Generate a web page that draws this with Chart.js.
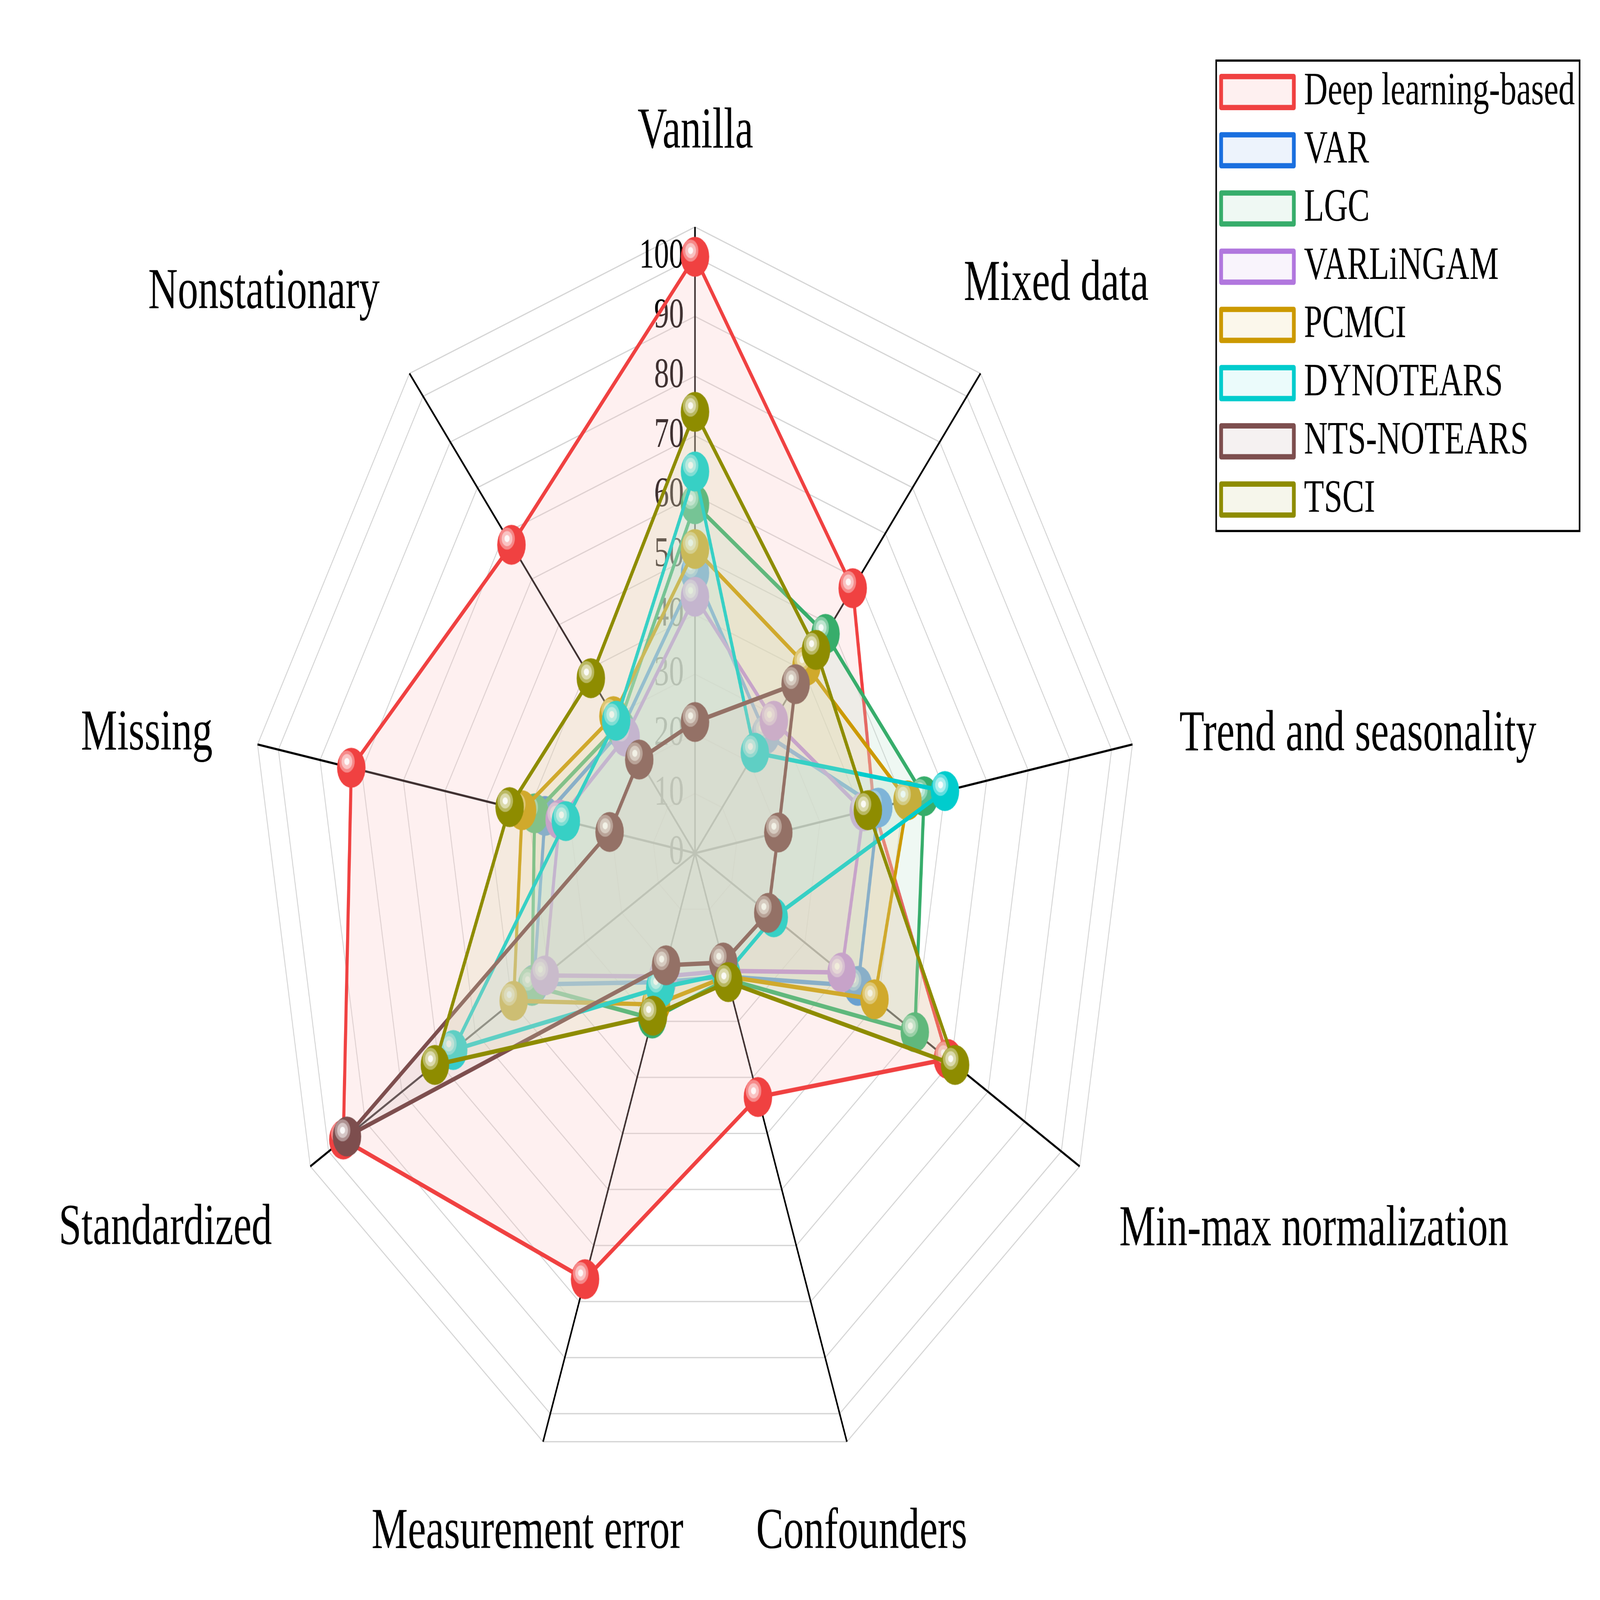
<!DOCTYPE html>
<html>
<head>
<meta charset="UTF-8" />
<script src="https://cdn.jsdelivr.net/npm/chart.js@4"></script>
<style>
  html {
    margin: 0;
    padding: 0;
    background: #ffffff;
    overflow: hidden;
  }
  body {
    margin: 0;
    padding: 0;
  }
  #wrap {
    position: absolute;
    left: 0;
    top: 0;
    transform-origin: 0 0;
  }
</style>
</head>
<body>
<div id="wrap"><canvas id="radar"></canvas></div>
<script>
// axes, clockwise from the top
const categories = ['Vanilla', 'Mixed data', 'Trend and seasonality', 'Min-max normalization',
  'Confounders', 'Measurement error', 'Standardized', 'Missing', 'Nonstationary'];

const seriesNames = ['Deep learning-based', 'VAR', 'LGC', 'VARLiNGAM', 'PCMCI', 'DYNOTEARS', 'NTS-NOTEARS', 'TSCI'];

const deepLearning = [100, 58, 43, 69, 43.5, 76, 96, 82.5, 67.5];
const varScores = [47, 26, 44, 44.5, 22, 23, 44, 36, 27];
const lgcScores = [58.5, 48, 55, 60, 22.5, 29.5, 44.5, 38.5, 28];
const varlingamScores = [43, 29, 40.5, 40, 21, 22, 41, 32.5, 25.5];
const pcmciScores = [51, 41, 51, 49, 22, 27, 49.5, 41.5, 30];
const dynotearsScores = [64, 22, 60, 21.5, 21.5, 24, 66, 31, 29];
const ntsNotearsScores = [22, 37, 20, 20, 19.5, 20, 95, 20.5, 20.5];
const tsciScores = [74, 44.5, 41.5, 71, 23, 29, 71, 44.5, 38.3];

const tickValues = [0, 10, 20, 30, 40, 50, 60, 70, 80, 90, 100];

const seriesColors = ['#F04141', '#1A6FDF', '#37AD6B', '#B177DE', '#CC9900', '#00CCCD', '#7D4E4E', '#8E8C00'];

const allScores = [deepLearning, varScores, lgcScores, varlingamScores, pcmciScores,
  dynotearsScores, ntsNotearsScores, tsciScores];

const SERIF = "'Liberation Serif', 'Times New Roman', serif";

// laid out for a 7208 x 5112 page; scaled to whatever window we actually get
const sx = (window.innerWidth || 7208) / 7208;
const sy = (window.innerHeight || 5112) / 5112;
const k = sx;
const px = v => v * k;
const wrap = document.getElementById('wrap');
wrap.style.width = px(7208) + 'px';
wrap.style.height = px(5112) + 'px';
if (Math.abs(sy / sx - 1) > 0.001) wrap.style.transform = `scale(1, ${sy / sx})`;

function rgbOf(hex) {
  const n = parseInt(hex.slice(1), 16);
  return [(n >> 16) & 255, (n >> 8) & 255, n & 255];
}
function towardWhite(hex, t, a) {
  const [r, g, b] = rgbOf(hex).map(v => Math.round(v + (255 - v) * t));
  return a === undefined ? `rgb(${r},${g},${b})` : `rgba(${r},${g},${b},${a})`;
}
// pale, semi-opaque area fill
const areaFill = hex => towardWhite(hex, 0.684, 0.25);

// glossy ball used as point marker
function sphere(hex) {
  const r = px(64);
  const c = document.createElement('canvas');
  c.width = c.height = Math.ceil(r * 2 + 2);
  const g = c.getContext('2d');
  const cx = c.width / 2, cy = c.height / 2;
  g.fillStyle = hex;
  g.beginPath(); g.arc(cx, cy, r, 0, Math.PI * 2); g.fill();
  const hx = cx - 0.31 * r, hy = cy - 0.31 * r;
  [[0.55, 0.38], [0.38, 0.68], [0.18, 0.96]].forEach(([s, t]) => {
    g.fillStyle = towardWhite(hex, t);
    g.beginPath(); g.arc(hx, hy, s * r, 0, Math.PI * 2); g.fill();
  });
  return c;
}

// label centres, in units of the radius of the 100 ring
const labelSpots = [
  [0.001, -1.208], [0.854, -0.953], [1.567, -0.198], [1.463, 0.632], [0.394, 1.140],
  [-0.396, 1.140], [-1.252, 0.630], [-1.296, -0.199], [-1.019, -0.939]
];

const tickText = {
  id: 'tickText',
  beforeDatasetsDraw(chart) {
    const s = chart.scales.r, ctx = chart.ctx;
    ctx.save();
    ctx.font = `${px(134)}px ${SERIF}`;
    ctx.fillStyle = '#000';
    ctx.textAlign = 'right';
    ctx.textBaseline = 'middle';
    tickValues.forEach(v => {
      ctx.fillText(String(v), s.xCenter - px(50), s.yCenter - s.getDistanceFromCenterForValue(v));
    });
    ctx.restore();
  }
};

const axisText = {
  id: 'axisText',
  afterDraw(chart) {
    const s = chart.scales.r, ctx = chart.ctx;
    const R = s.getDistanceFromCenterForValue(100);
    ctx.save();
    ctx.font = `${px(184)}px ${SERIF}`;
    ctx.fillStyle = '#000';
    ctx.textAlign = 'center';
    ctx.textBaseline = 'middle';
    categories.forEach((name, i) => {
      const [fx, fy] = labelSpots[i];
      ctx.fillText(name, s.xCenter + fx * R, s.yCenter + fy * R);
    });
    ctx.restore();
  }
};

const boxLegend = {
  id: 'boxLegend',
  afterDraw(chart) {
    const ctx = chart.ctx;
    ctx.save();
    ctx.lineWidth = px(7);
    ctx.strokeStyle = '#000';
    ctx.strokeRect(px(5478.5), px(193.5), px(1637), px(1503));
    ctx.font = `${px(148)}px ${SERIF}`;
    ctx.textBaseline = 'middle';
    ctx.textAlign = 'left';
    seriesNames.forEach((name, i) => {
      const cy = 294 + i * 186;
      ctx.lineWidth = px(17);
      ctx.lineJoin = 'round';
      ctx.fillStyle = '#fff';
      ctx.fillRect(px(5500.5), px(cy - 49.5), px(328), px(99));
      ctx.fillStyle = areaFill(seriesColors[i]);
      ctx.fillRect(px(5500.5), px(cy - 49.5), px(328), px(99));
      ctx.strokeStyle = seriesColors[i];
      ctx.strokeRect(px(5500.5), px(cy - 49.5), px(328), px(99));
      ctx.fillStyle = '#000';
      ctx.fillText(name, px(5874), px(cy));
    });
    ctx.restore();
  }
};

const datasets = seriesNames.map((name, i) => ({
  label: name,
  data: allScores[i],
  borderColor: seriesColors[i],
  backgroundColor: areaFill(seriesColors[i]),
  borderWidth: px(14),
  fill: true,
  pointStyle: sphere(seriesColors[i]),
  pointRadius: px(64),
  pointHoverRadius: px(64),
  order: seriesNames.length - i
}));

new Chart(document.getElementById('radar'), {
  type: 'radar',
  data: { labels: categories, datasets },
  options: {
    responsive: true,
    maintainAspectRatio: false,
    devicePixelRatio: Math.max(1, sy / sx),
    animation: false,
    layout: { padding: { left: px(131), right: px(1077), top: px(726), bottom: px(384) } },
    plugins: {
      legend: { display: false },
      tooltip: { enabled: false }
    },
    scales: {
      r: {
        min: 0,
        max: 105,
        bounds: 'data',
        startAngle: 0,
        ticks: { stepSize: 10, display: false, includeBounds: false },
        grid: { color: '#d4d4d4', lineWidth: px(4) },
        angleLines: { color: '#000000', lineWidth: px(7) },
        pointLabels: { display: false }
      }
    }
  },
  plugins: [tickText, axisText, boxLegend]
});
</script>
</body>
</html>
